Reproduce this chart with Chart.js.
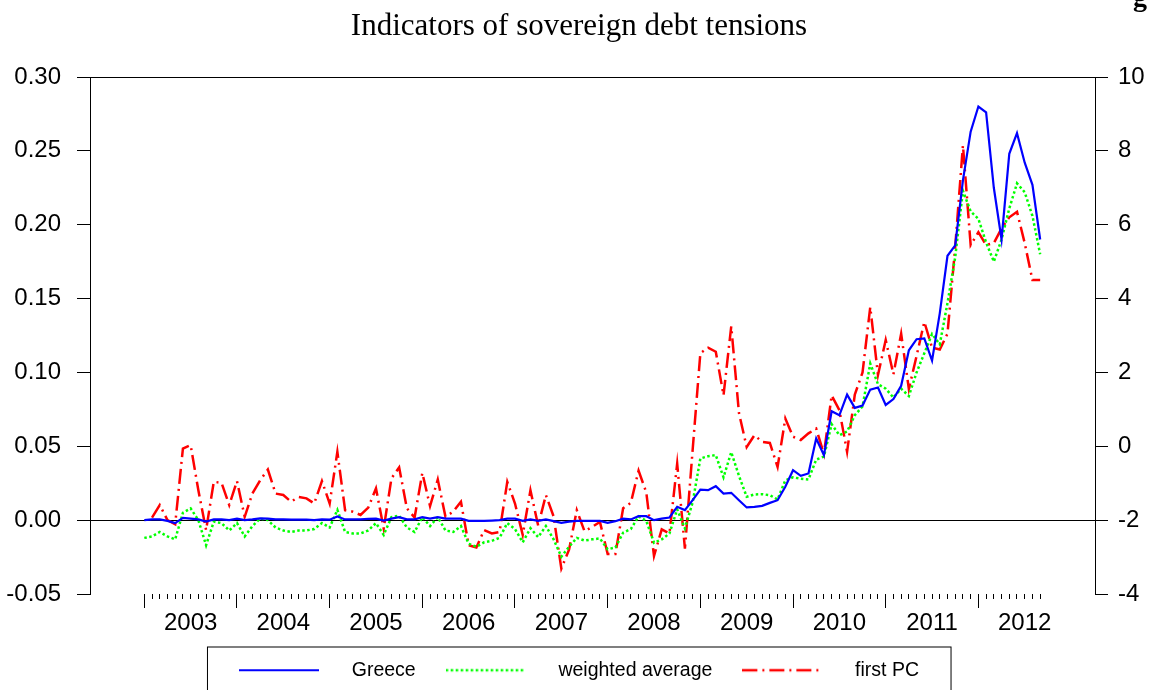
<!DOCTYPE html>
<html>
<head>
<meta charset="utf-8">
<title>Indicators of sovereign debt tensions</title>
<script src="https://cdn.jsdelivr.net/npm/chart.js@4.4.1/dist/chart.umd.min.js"></script>
<style>
  html, body { margin: 0; padding: 0; background: #fff; }
  canvas { display: block; }
</style>
</head>
<body>
<canvas id="chart" width="1158" height="690"></canvas>
<script>
// monthly observations, Jan 2003 .. Sep 2012
var yearLabels = ['2003', '2004', '2005', '2006', '2007', '2008', '2009', '2010', '2011', '2012'];

var greece = [
  0.0000, 0.0005, 0.0005, -0.0005, -0.0020, 0.0015, 0.0010, 0.0005, -0.0010, 0.0005, 0.0005, 0.0000,
  0.0010, 0.0000, 0.0005, 0.0012, 0.0010, 0.0005, 0.0005, 0.0003, 0.0003, 0.0003, 0.0000, 0.0005,
  0.0003, 0.0025, 0.0005, 0.0005, 0.0005, 0.0008, 0.0010, -0.0003, 0.0010, 0.0020, 0.0005, 0.0005,
  0.0020, 0.0010, 0.0020, 0.0010, 0.0010, 0.0010, -0.0005, -0.0005, -0.0005, -0.0003, 0.0000, 0.0010,
  0.0010, -0.0005, 0.0005, -0.0005, 0.0005, -0.0007, -0.0018, -0.0010, -0.0005, -0.0005, -0.0005, -0.0005,
  -0.0018, -0.0007, 0.0010, 0.0005, 0.0027, 0.0027, 0.0000, 0.0010, 0.0018, 0.0090, 0.0068, 0.0135,
  0.0207, 0.0203, 0.0230, 0.0180, 0.0185, 0.0135, 0.0086, 0.0090, 0.0097, 0.0117, 0.0135, 0.0226,
  0.0338, 0.0300, 0.0316, 0.0553, 0.0440, 0.0737, 0.0710, 0.0850, 0.0760, 0.0776, 0.0884, 0.0898,
  0.0780, 0.0820, 0.0910, 0.1150, 0.1225, 0.1230, 0.1080, 0.1400, 0.1790, 0.1860, 0.2300, 0.2630,
  0.2800, 0.2760, 0.2250, 0.1900, 0.2480, 0.2620, 0.2420, 0.2270, 0.1900
];

var weightedAvg = [
  -0.012, -0.011, -0.008, -0.011, -0.013, 0.005, 0.008, 0.000, -0.017, -0.001, -0.002, -0.007,
  -0.002, -0.011, -0.004, 0.001, 0.000, -0.005, -0.007, -0.008, -0.007, -0.007, -0.006, -0.002,
  -0.005, 0.007, -0.008, -0.009, -0.009, -0.007, -0.002, -0.010, 0.002, 0.003, -0.005, -0.008,
  0.002, -0.004, 0.002, -0.007, -0.008, -0.004, -0.016, -0.018, -0.015, -0.014, -0.012, -0.002,
  -0.006, -0.015, -0.0055, -0.0115, -0.004, -0.013, -0.0248, -0.018, -0.012, -0.0138, -0.013, -0.0124,
  -0.0197, -0.0185, -0.0085, -0.006, 0.0025, -0.0005, -0.0153, -0.013, -0.009, 0.0073, -0.0056, 0.012,
  0.0417, 0.0433, 0.044, 0.029, 0.046, 0.030, 0.0158, 0.0174, 0.0176, 0.0169, 0.014, 0.027,
  0.029, 0.028, 0.0275, 0.041, 0.043, 0.065, 0.0575, 0.060, 0.071, 0.077, 0.106, 0.092,
  0.089, 0.083, 0.089, 0.084, 0.100, 0.113, 0.126, 0.119, 0.147, 0.178, 0.223, 0.209,
  0.204, 0.188, 0.175, 0.190, 0.211, 0.228, 0.222, 0.206, 0.180
];

// right hand scale
var firstPC = [
  null, -1.93, -1.59, -2.00, -2.11, -0.06, 0.03, -1.19, -2.27, -0.96, -0.99, -1.59,
  -0.94, -1.91, -1.28, -0.92, -0.63, -1.28, -1.32, -1.50, -1.37, -1.41, -1.55, -0.94,
  -1.55, -0.15, -1.73, -1.77, -1.86, -1.66, -1.14, -2.23, -0.87, -0.57, -1.68, -1.93,
  -0.72, -1.62, -0.90, -1.91, -1.77, -1.50, -2.68, -2.74, -2.27, -2.36, -2.32, -0.96,
  -1.55, -2.40, -1.19, -2.15, -1.32, -1.90, -3.31, -2.80, -1.73, -2.30, -2.18, -2.05,
  -2.92, -2.92, -1.68, -1.53, -0.66, -1.25, -2.97, -2.25, -2.36, -0.47, -2.77, -0.10,
  2.52, 2.67, 2.56, 1.38, 3.25, 0.90, -0.02, 0.30, 0.12, 0.09, -0.56, 0.75,
  0.26, 0.17, 0.35, 0.48, -0.21, 1.38, 0.98, -0.15, 1.40, 2.00, 3.77, 1.93,
  2.88, 1.95, 3.05, 1.55, 2.45, 3.37, 2.67, 2.62, 3.05, 5.40, 8.15, 5.45,
  5.80, 5.45, 5.50, 5.90, 6.20, 6.35, 5.50, 4.50, 4.50
];

var FONT = 'Liberation Sans, Arial, sans-serif';

function toPoints(arr) {
  return arr.map(function (v, i) { return {x: i, y: v}; });
}

// little line samples for the legend (line + blank space before the text)
function legendSample(color, dash, width) {
  var c = document.createElement('canvas');
  c.width = 103; c.height = 8;
  var g = c.getContext('2d');
  g.strokeStyle = color; g.lineWidth = width; g.setLineDash(dash);
  g.beginPath(); g.moveTo(0, 4); g.lineTo(80, 4); g.stroke();
  return c;
}

var redDash = [15, 5, 2, 5];
var greenDash = [2.5, 2.5];

var legendFrame = {
  id: 'legendFrame',
  afterDraw: function (chart) {
    var hb = chart.legend.legendHitBoxes;
    if (!hb || !hb.length) return;
    var last = hb[hb.length - 1];
    var ctx = chart.ctx;
    ctx.save();
    ctx.strokeStyle = '#000';
    ctx.lineWidth = 1;
    ctx.strokeRect(hb[0].left - 31.5, hb[0].top - 13.5, (last.left + last.width + 32) - (hb[0].left - 31.5), 80);
    // tail of the heading above the figure (cut off by the crop)
    ctx.fillStyle = '#000';
    ctx.font = 'bold 28px "Liberation Serif"';
    ctx.textAlign = 'center';
    ctx.textBaseline = 'alphabetic';
    ctx.fillText('g', 1140, 6);
    ctx.restore();
  }
};

new Chart(document.getElementById('chart').getContext('2d'), {
  type: 'line',
  data: {
    datasets: [
      {
        label: 'Greece',
        data: toPoints(greece),
        yAxisID: 'y',
        borderColor: '#0000ff',
        borderWidth: 2.2,
        pointRadius: 0,
        pointStyle: legendSample('#0000ff', [], 2),
        tension: 0
      },
      {
        label: 'weighted average',
        data: toPoints(weightedAvg),
        yAxisID: 'y',
        borderColor: '#00ff00',
        borderWidth: 2.5,
        borderDash: greenDash,
        pointRadius: 0,
        pointStyle: legendSample('#00ff00', greenDash, 2.5),
        tension: 0
      },
      {
        label: 'first PC',
        data: toPoints(firstPC),
        yAxisID: 'y2',
        borderColor: '#ff0000',
        borderWidth: 2.5,
        borderDash: redDash,
        pointRadius: 0,
        pointStyle: legendSample('#ff0000', redDash, 2.5),
        tension: 0
      }
    ]
  },
  options: {
    responsive: false,
    animation: false,
    devicePixelRatio: 1,
    layout: {padding: 0},
    scales: {
      x: {
        type: 'linear',
        min: -7.03,
        max: 123.1,
        afterBuildTicks: function (axis) {
          axis.ticks = greece.map(function (_, i) { return {value: i}; });
        },
        afterFit: function (scale) { scale.height = 36.5; },
        border: {display: false},
        grid: {
          drawOnChartArea: false,
          tickLength: 14,
          tickColor: '#000',
          tickBorderDash: function (ctx) {
            return (ctx.tick && ctx.tick.value % 12 === 0) ? [] : [5, 30];
          }
        },
        ticks: {
          autoSkip: false,
          maxRotation: 0,
          padding: 1,
          color: '#000',
          font: {family: FONT, size: 24},
          callback: function (v) {
            return v % 12 === 6 ? yearLabels[(v - 6) / 12] : '';
          }
        }
      },
      y: {
        position: 'left',
        min: -0.05,
        max: 0.30,
        afterFit: function (scale) { scale.width = 90; },
        border: {display: true, color: '#000', width: 1},
        grid: {
          tickLength: 13,
          tickColor: '#000',
          color: function (ctx) {
            var v = ctx.tick ? ctx.tick.value : null;
            if (v === null) return 'rgba(0,0,0,0)';
            return (Math.abs(v) < 1e-9 || Math.abs(v - 0.30) < 1e-9) ? '#000' : 'rgba(0,0,0,0)';
          }
        },
        ticks: {
          stepSize: 0.05,
          padding: 16,
          color: '#000',
          font: {family: FONT, size: 24},
          callback: function (v) {
            return Math.abs(v) < 1e-9 ? '0.00' : Number(v).toFixed(2);
          }
        }
      },
      y2: {
        position: 'right',
        min: -4,
        max: 10,
        afterFit: function (scale) { scale.width = 63; },
        border: {display: true, color: '#000', width: 1},
        grid: {drawOnChartArea: false, tickLength: 13, tickColor: '#000'},
        ticks: {
          stepSize: 2,
          padding: 10,
          color: '#000',
          font: {family: FONT, size: 24}
        }
      }
    },
    plugins: {
      title: {
        display: true,
        text: 'Indicators of sovereign debt tensions',
        color: '#000',
        font: {family: 'Liberation Serif, Times New Roman, serif', size: 31, weight: 'normal'},
        padding: {top: 8.4, bottom: 31.4}
      },
      legend: {
        position: 'bottom',
        labels: {
          usePointStyle: true,
          pointStyleWidth: 103,
          padding: 30,
          color: '#000',
          font: {family: FONT, size: 19.5}
        }
      },
      tooltip: {enabled: false}
    }
  },
  plugins: [legendFrame]
});
</script>
</body>
</html>
